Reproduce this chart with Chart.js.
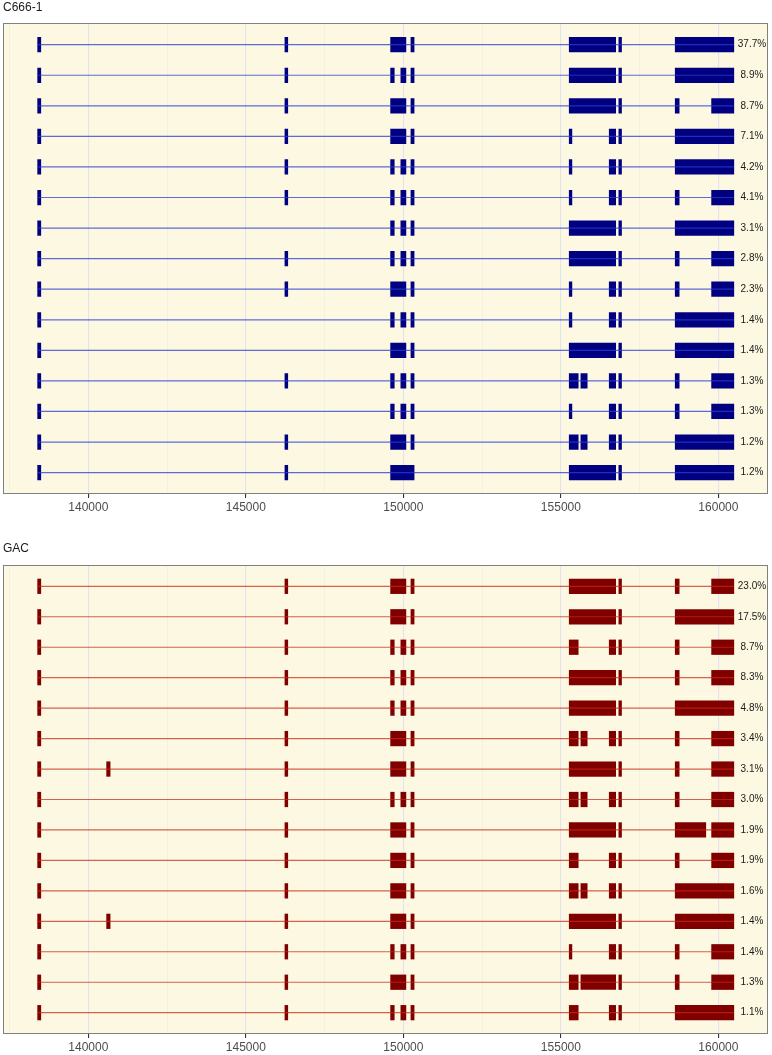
<!DOCTYPE html>
<html>
<head>
<meta charset="utf-8">
<script src="https://cdn.jsdelivr.net/npm/chart.js@4.4.0/dist/chart.umd.min.js"></script>
<style>
	body { margin: 0; background: #fff; }
	canvas { display: block; }
</style>
</head>
<body>
<canvas id="chart1" width="772" height="527"></canvas>
<canvas id="chart2" width="772" height="528"></canvas>
<script>
// exon coordinates (bp)
const exonNames = ['A', 'X', 'B', 'C', 'C1', 'C2', 'D', 'CD', 'E', 'E1', 'E1L', 'E2', 'E2L', 'E3', 'F', 'G', 'G1', 'Gb', 'G2']
const exonStarts = [138390, 140580, 146240, 149595, 149595, 149920, 150240, 149595, 155265, 155265, 155265, 155635, 155635, 156535, 156840, 158630, 158630, 158630, 159785]
const exonEnds = [138490, 140690, 146330, 150080, 149710, 150080, 150340, 150340, 156740, 155350, 155550, 155835, 156740, 156740, 156925, 160490, 158755, 159600, 160490]

const majorTicks = [140000, 145000, 150000, 155000, 160000]
const minorTicks = [137500, 142500, 147500, 152500, 157500]

const c666Rows = [
	['A', 'B', 'C', 'D', 'E', 'F', 'G'],
	['A', 'B', 'C1', 'C2', 'D', 'E', 'F', 'G'],
	['A', 'B', 'C', 'D', 'E', 'F', 'G1', 'G2'],
	['A', 'B', 'C', 'D', 'E1', 'E3', 'F', 'G'],
	['A', 'B', 'C1', 'C2', 'D', 'E1', 'E3', 'F', 'G'],
	['A', 'B', 'C1', 'C2', 'D', 'E1', 'E3', 'F', 'G1', 'G2'],
	['A', 'C1', 'C2', 'D', 'E', 'F', 'G'],
	['A', 'B', 'C1', 'C2', 'D', 'E', 'F', 'G1', 'G2'],
	['A', 'B', 'C', 'D', 'E1', 'E3', 'F', 'G1', 'G2'],
	['A', 'C1', 'C2', 'D', 'E1', 'E3', 'F', 'G'],
	['A', 'C', 'D', 'E', 'F', 'G'],
	['A', 'B', 'C1', 'C2', 'D', 'E1L', 'E2', 'E3', 'F', 'G1', 'G2'],
	['A', 'C1', 'C2', 'D', 'E1', 'E3', 'F', 'G1', 'G2'],
	['A', 'B', 'C', 'D', 'E1L', 'E2', 'E3', 'F', 'G'],
	['A', 'B', 'CD', 'E', 'F', 'G'],
]
const c666Pct = [37.7, 8.9, 8.7, 7.1, 4.2, 4.1, 3.1, 2.8, 2.3, 1.4, 1.4, 1.3, 1.3, 1.2, 1.2]

const gacRows = [
	['A', 'B', 'C', 'D', 'E', 'F', 'G1', 'G2'],
	['A', 'B', 'C', 'D', 'E', 'F', 'G'],
	['A', 'B', 'C1', 'C2', 'D', 'E1L', 'E3', 'F', 'G1', 'G2'],
	['A', 'B', 'C1', 'C2', 'D', 'E', 'F', 'G1', 'G2'],
	['A', 'B', 'C1', 'C2', 'D', 'E', 'F', 'G'],
	['A', 'B', 'C', 'D', 'E1L', 'E2', 'E3', 'F', 'G1', 'G2'],
	['A', 'X', 'B', 'C', 'D', 'E', 'F', 'G1', 'G2'],
	['A', 'B', 'C1', 'C2', 'D', 'E1L', 'E2', 'E3', 'F', 'G1', 'G2'],
	['A', 'B', 'C', 'D', 'E', 'F', 'Gb', 'G2'],
	['A', 'B', 'C', 'D', 'E1L', 'E3', 'F', 'G1', 'G2'],
	['A', 'B', 'C', 'D', 'E1L', 'E2', 'E3', 'F', 'G'],
	['A', 'X', 'B', 'C', 'D', 'E', 'F', 'G'],
	['A', 'B', 'C1', 'C2', 'D', 'E1', 'E3', 'F', 'G1', 'G2'],
	['A', 'B', 'C', 'D', 'E1L', 'E2L', 'F', 'G1', 'G2'],
	['A', 'B', 'C1', 'C2', 'D', 'E1L', 'E3', 'F', 'G'],
]
const gacPct = [23.0, 17.5, 8.7, 8.3, 4.8, 3.4, 3.1, 3.0, 1.9, 1.9, 1.6, 1.4, 1.4, 1.3, 1.1]

const xMin = 137290
const xMax = 161575
const labelX = 161065

Chart.defaults.font.family = "'Liberation Sans', Arial, sans-serif"

const panelBg = {
	id: 'panelBg',
	beforeDraw(chart) {
		const { ctx, chartArea: a } = chart
		ctx.save()
		ctx.fillStyle = '#fdf8e1'
		ctx.fillRect(a.left, a.top, a.width, a.height)
		ctx.restore()
	},
	afterDraw(chart) {
		const { ctx, chartArea: a } = chart
		ctx.save()
		ctx.strokeStyle = '#808080'
		ctx.lineWidth = 1
		ctx.strokeRect(Math.round(a.left) + 0.5, Math.round(a.top) + 0.5, Math.round(a.width) - 1, Math.round(a.height) - 1)
		ctx.restore()
	},
}

const pctLabels = {
	id: 'pctLabels',
	afterDatasetsDraw(chart, args, opts) {
		const { ctx, scales: { x, y } } = chart
		ctx.save()
		ctx.font = "10px 'Liberation Sans', Arial, sans-serif"
		ctx.fillStyle = '#1a1a1a'
		ctx.textAlign = 'center'
		ctx.textBaseline = 'middle'
		opts.values.forEach((v, i) => {
			ctx.fillText(v.toFixed(1) + '%', x.getPixelForValue(labelX), y.getPixelForValue(i + 1))
		})
		ctx.restore()
	},
}

function exonSpan(name) {
	const i = exonNames.indexOf(name)
	return [exonStarts[i], exonEnds[i]]
}

function printPanel(canvasId, title, rows, pcts, fill, line, padTop, titleGap, axisHeight) {
	const exonBars = []
	const introns = []

	rows.forEach((row, i) => {
		const spans = row.map(exonSpan)
		spans.forEach(s => exonBars.push({ x: s, y: i + 1 }))
		const start = Math.min(...spans.map(s => s[0]))
		const end = Math.max(...spans.map(s => s[1]))
		introns.push({
			type: 'line',
			data: [{ x: start, y: i + 1 }, { x: end, y: i + 1 }],
			borderColor: line,
			borderWidth: 1.2,
			pointRadius: 0,
			order: 0,
		})
	})

	const chartData = {
		datasets: [
			{
				type: 'bar',
				data: exonBars,
				backgroundColor: fill,
				borderWidth: 0,
				borderSkipped: false,
				barThickness: 14.6,
				order: 1,
			},
			...introns,
		],
	}

	const isMajor = v => majorTicks.includes(v)

	const optionsData = {
		responsive: false,
		animation: false,
		indexAxis: 'y',
		layout: { padding: { top: padTop, left: 3, right: 4, bottom: 0 } },
		plugins: {
			legend: { display: false },
			tooltip: { enabled: false },
			title: {
				display: true,
				text: title,
				align: 'start',
				color: '#1a1a1a',
				font: { size: 12, weight: 'normal' },
				padding: { top: 0, bottom: titleGap },
			},
			pctLabels: { values: pcts },
		},
		scales: {
			x: {
				type: 'linear',
				min: xMin,
				max: xMax,
				afterBuildTicks: scale => {
					scale.ticks = [...minorTicks, ...majorTicks].sort((a, b) => a - b).map(v => ({ value: v }))
				},
				afterFit: scale => {
					scale.height = axisHeight
				},
				ticks: {
					callback: v => (isMajor(v) ? String(v) : ''),
					color: '#4d4d4d',
					font: { size: 12 },
					padding: 2,
					maxRotation: 0,
					autoSkip: false,
				},
				grid: {
					color: ctx => (isMajor(ctx.tick.value) ? '#e3e3ee' : '#eeece6'),
					lineWidth: ctx => (isMajor(ctx.tick.value) ? 1.1 : 0.6),
					tickColor: ctx => (isMajor(ctx.tick.value) ? '#333333' : 'rgba(0,0,0,0)'),
					tickLength: 4,
				},
				border: { display: false },
			},
			y: {
				type: 'linear',
				min: 0.3,
				max: 15.7,
				reverse: true,
				offset: false,
				display: false,
				grid: { offset: false },
			},
		},
	}

	new Chart(canvasId, { type: 'bar', data: chartData, options: optionsData, plugins: [panelBg, pctLabels] })
}

printPanel('chart1', 'C666-1', c666Rows, c666Pct, '#000080', 'rgba(40, 60, 210, 0.75)', 0, 8.9, 33)
printPanel('chart2', 'GAC', gacRows, gacPct, '#800000', 'rgba(195, 40, 20, 0.72)', 14, 9.6, 21)
</script>
</body>
</html>
